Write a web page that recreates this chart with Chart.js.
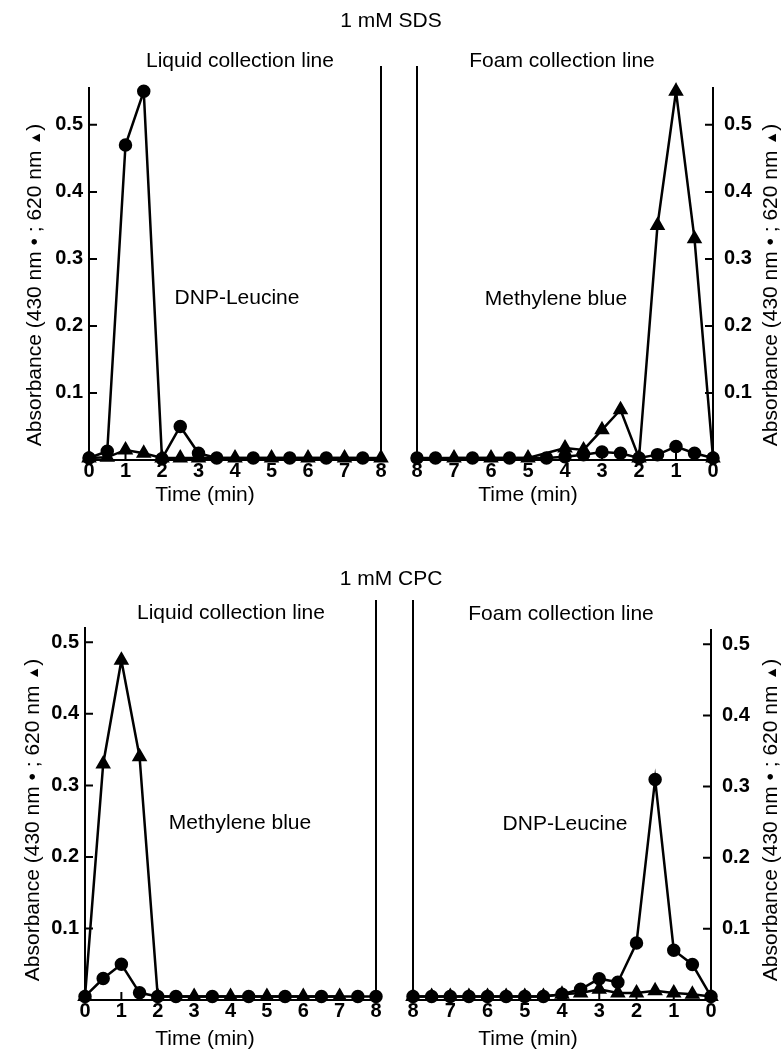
<!DOCTYPE html>
<html>
<head>
<meta charset="utf-8">
<script src="https://cdn.jsdelivr.net/npm/chart.js@4.4.0/dist/chart.umd.min.js"></script>
<style>
  html, body { margin: 0; padding: 0; background: #fff; }
  #page { position: relative; width: 782px; height: 1062px; overflow: hidden;
          font-family: 'Liberation Sans', Arial, sans-serif; color: #000; }
  #page canvas { position: absolute; left: 0; top: 0; }
  .lbl { position: absolute; white-space: nowrap; font-size: 21px; transform: translate(-50%, -50%); }
  .ytitle { position: absolute; white-space: nowrap; font-size: 21px;
            transform: translate(-50%, -50%) rotate(-90deg); }
  .ytitle small { font-size: 14px; vertical-align: 1px; }
</style>
</head>
<body>
<div id="page">
  <canvas id="sdsLiquid" width="782" height="1062"></canvas>
  <canvas id="sdsFoam" width="782" height="1062"></canvas>
  <canvas id="cpcLiquid" width="782" height="1062"></canvas>
  <canvas id="cpcFoam" width="782" height="1062"></canvas>

  <div class="lbl" style="left:391px; top:20px">1 mM SDS</div>
  <div class="lbl" style="left:240px; top:60px">Liquid collection line</div>
  <div class="lbl" style="left:562px; top:60px">Foam collection line</div>
  <div class="lbl" style="left:237px; top:297px">DNP-Leucine</div>
  <div class="lbl" style="left:556px; top:298px">Methylene blue</div>
  <div class="lbl" style="left:205px; top:494px">Time (min)</div>
  <div class="lbl" style="left:528px; top:494px">Time (min)</div>
  <div class="ytitle" style="left:34px; top:285px">Absorbance (430 nm &#8226; ; 620 nm <small>&#9650;</small>)</div>
  <div class="ytitle" style="left:770px; top:285px">Absorbance (430 nm &#8226; ; 620 nm <small>&#9650;</small>)</div>

  <div class="lbl" style="left:391px; top:578px">1 mM CPC</div>
  <div class="lbl" style="left:231px; top:612px">Liquid collection line</div>
  <div class="lbl" style="left:561px; top:613px">Foam collection line</div>
  <div class="lbl" style="left:240px; top:822px">Methylene blue</div>
  <div class="lbl" style="left:565px; top:823px">DNP-Leucine</div>
  <div class="lbl" style="left:205px; top:1038px">Time (min)</div>
  <div class="lbl" style="left:528px; top:1038px">Time (min)</div>
  <div class="ytitle" style="left:32px; top:820px">Absorbance (430 nm &#8226; ; 620 nm <small>&#9650;</small>)</div>
  <div class="ytitle" style="left:770px; top:820px">Absorbance (430 nm &#8226; ; 620 nm <small>&#9650;</small>)</div>
</div>

<script>
const W = 782, H = 1062;

const times = [0, 0.5, 1, 1.5, 2, 2.5, 3, 3.5, 4, 4.5, 5, 5.5, 6, 6.5, 7, 7.5, 8];
const xTicks = [0, 1, 2, 3, 4, 5, 6, 7, 8];
const yTicks = [0.1, 0.2, 0.3, 0.4, 0.5];

// 1 mM SDS (430 nm = circles, 620 nm = triangles)
const sdsLiquid430 = [0.003, 0.013, 0.47, 0.55, 0.002, 0.05, 0.01, 0.003, null, 0.003, null, 0.003, null, 0.003, null, 0.003, null];
const sdsLiquid620 = [0.003, 0.004, 0.015, 0.01, 0.003, 0.003, 0.003, null, 0.003, null, 0.003, null, 0.003, null, 0.003, null, 0.003];
const sdsFoam430 = [0.003, 0.01, 0.02, 0.008, 0.003, 0.01, 0.012, 0.008, 0.005, 0.003, null, 0.003, null, 0.003, null, 0.003, 0.003];
const sdsFoam620 = [0.003, 0.33, 0.55, 0.35, 0.003, 0.075, 0.045, 0.015, 0.018, null, 0.003, null, 0.003, null, 0.003, null, null];

// 1 mM CPC
const cpcLiquid430 = [0.005, 0.03, 0.05, 0.01, 0.005, 0.005, null, 0.005, null, 0.005, null, 0.005, null, 0.005, null, 0.005, 0.005];
const cpcLiquid620 = [0.005, 0.33, 0.475, 0.34, 0.005, null, 0.005, null, 0.005, null, 0.005, null, 0.005, null, 0.005, null, null];
const cpcFoam430 = [0.005, 0.05, 0.07, 0.31, 0.08, 0.025, 0.03, 0.015, 0.008, 0.005, 0.005, 0.005, 0.005, 0.005, 0.005, 0.005, 0.005];
const cpcFoam620 = [0.005, 0.008, 0.01, 0.013, 0.01, 0.01, 0.015, 0.01, 0.008, 0.005, 0.005, 0.005, 0.005, 0.005, 0.005, 0.005, 0.005];

const inwardTicks = {
  id: 'inwardTicks',
  afterDraw(chart, args, opts) {
    const {ctx, scales: {x, y}} = chart;
    ctx.save();
    ctx.strokeStyle = '#000';
    ctx.lineWidth = 2;
    ctx.beginPath();
    xTicks.forEach(v => {
      const px = x.getPixelForValue(v);
      ctx.moveTo(px, y.bottom);
      ctx.lineTo(px, y.bottom - 8);
    });
    const left = y.position === 'left';
    const ax = left ? y.right : y.left;
    yTicks.forEach(v => {
      const py = y.getPixelForValue(v);
      ctx.moveTo(ax, py);
      ctx.lineTo(ax + (left ? 8 : -8), py);
    });
    // divider line at 8 min
    const p8 = x.getPixelForValue(8);
    ctx.moveTo(p8, opts.dividerTop);
    ctx.lineTo(p8, y.bottom);
    ctx.stroke();
    ctx.restore();
  }
};

function points(vals) {
  return times.map((t, i) => ({x: t, y: vals[i]}));
}

function makeChart(id, area, c430, t620, foam) {
  const yW = 60, xH = 40;
  const side = foam ? 'right' : 'left';
  return new Chart(document.getElementById(id), {
    type: 'line',
    data: {
      datasets: [
        {
          label: '430 nm',
          data: points(c430),
          borderColor: '#000', backgroundColor: '#000',
          borderWidth: 2.5, pointStyle: 'circle', pointRadius: 5.5,
          spanGaps: true, clip: false, tension: 0
        },
        {
          label: '620 nm',
          data: points(t620),
          borderColor: '#000', backgroundColor: '#000',
          borderWidth: 2.5, pointStyle: 'triangle', pointRadius: 6.5,
          spanGaps: true, clip: false, tension: 0
        }
      ]
    },
    options: {
      responsive: false,
      animation: false,
      devicePixelRatio: 1,
      layout: {
        padding: {
          left: foam ? area.left : area.left - yW,
          right: foam ? W - area.right - yW : W - area.right,
          top: area.top,
          bottom: H - area.bottom - xH
        }
      },
      scales: {
        x: {
          type: 'linear',
          min: 0, max: 8,
          reverse: foam,
          afterBuildTicks: s => { s.ticks = xTicks.map(v => ({value: v})); },
          afterFit: s => { s.height = xH; },
          grid: {display: false, drawTicks: false},
          border: {display: true, color: '#000', width: 2},
          ticks: {
            color: '#000', padding: 1, maxRotation: 0, autoSkip: false,
            font: {family: 'Liberation Sans', size: 20, weight: 'bold', lineHeight: 1}
          }
        },
        y: {
          position: side,
          min: 0, max: area.yMax,
          afterBuildTicks: s => { s.ticks = yTicks.map(v => ({value: v})); },
          afterFit: s => { s.width = yW; },
          grid: {display: false, drawTicks: false},
          border: {display: true, color: '#000', width: 2},
          ticks: {
            color: '#000', padding: foam ? 11 : 6,
            callback: v => v.toFixed(1),
            font: {family: 'Liberation Sans', size: 20, weight: 'bold'}
          }
        }
      },
      plugins: {
        legend: {display: false},
        tooltip: {enabled: false},
        inwardTicks: {dividerTop: area.dividerTop}
      }
    },
    plugins: [inwardTicks]
  });
}

makeChart('sdsLiquid', {left: 89, right: 381, top: 88, bottom: 460, yMax: 0.555, dividerTop: 66}, sdsLiquid430, sdsLiquid620, false);
makeChart('sdsFoam', {left: 417, right: 713, top: 88, bottom: 460, yMax: 0.555, dividerTop: 66}, sdsFoam430, sdsFoam620, true);
makeChart('cpcLiquid', {left: 85, right: 376, top: 628, bottom: 1000, yMax: 0.52, dividerTop: 600}, cpcLiquid430, cpcLiquid620, false);
makeChart('cpcFoam', {left: 413, right: 711, top: 630, bottom: 1000, yMax: 0.52, dividerTop: 600}, cpcFoam430, cpcFoam620, true);
</script>
</body>
</html>
